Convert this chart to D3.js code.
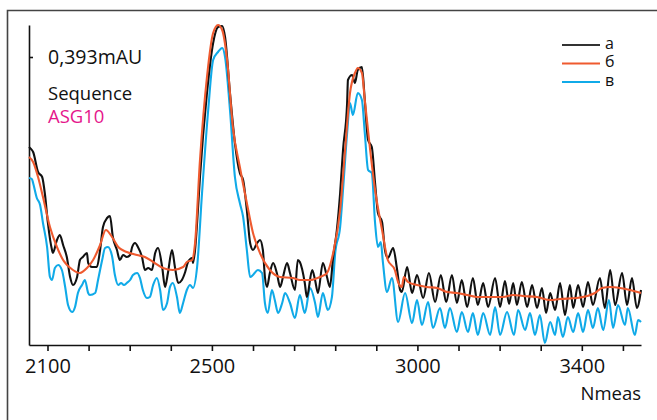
<!DOCTYPE html>
<html>
<head>
<meta charset="utf-8">
<script src="https://cdn.jsdelivr.net/npm/d3@7"></script>
<style>
  html, body { margin: 0; padding: 0; background: #fff; }
  svg { display: block; }
  text { font-family: "Open Sans", "Noto Sans", sans-serif; fill: #111; }
</style>
</head>
<body>
<svg id="chart" width="657" height="420"></svg>
<script>
// ---- data (Nmeas, mAU) ----
const xTickValues = [2100,2200,2300,2400,2500,2600,2700,2800,2900,3000,3100,3200,3300,3400,3500];
const xTickLabels = [2100, 2500, 3000, 3400];
const yTickValues = [0.393];
const yTickLabel = "0,393mAU";
const legendLabels = ["а", "б", "в"];
const infoLines = ["Sequence", "ASG10"];
const xLabel = "Nmeas";

const seriesA = [
[2055,.303],[2062,.300],[2065,.298],[2077,.278],[2087,.273],[2094,.255],[2101,.227],[2111,.200],[2113,.197],
[2123,.210],[2130,.215],[2138,.205],[2147,.193],[2155,.173],[2162,.165],[2172,.173],[2179,.190],[2186,.193],
[2196,.197],[2199,.187],[2208,.183],[2220,.183],[2228,.200],[2235,.223],[2245,.232],[2252,.234],[2259,.213],
[2269,.200],[2276,.190],[2284,.195],[2293,.193],[2301,.195],[2306,.203],[2313,.207],[2320,.203],[2330,.193],
[2337,.180],[2345,.182],[2354,.180],[2362,.197],[2369,.202],[2379,.183],[2386,.163],[2393,.177],[2403,.200],
[2410,.183],[2418,.167],[2427,.170],[2435,.178],[2442,.188],[2452,.192],[2454,.187],[2459,.200],[2466,.240],
[2471,.273],[2488,.357],[2503,.407],[2515,.423],[2525,.424],[2532,.413],[2544,.357],[2556,.307],[2568,.277],
[2576,.270],[2585,.240],[2593,.207],[2600,.200],[2610,.207],[2617,.210],[2624,.200],[2629,.173],[2634,.163],
[2641,.177],[2649,.187],[2658,.177],[2666,.163],[2673,.173],[2683,.187],[2690,.177],[2702,.160],[2709,.190],
[2714,.188],[2726,.167],[2731,.153],[2744,.180],[2751,.170],[2758,.157],[2770,.187],[2780,.173],[2787,.163],
[2795,.193],[2804,.220],[2812,.257],[2819,.300],[2829,.347],[2831,.370],[2841,.375],[2848,.367],[2855,.380],
[2865,.383],[2872,.350],[2880,.310],[2889,.303],[2897,.267],[2904,.237],[2914,.228],[2921,.200],[2928,.192],
[2941,.202],[2950,.182],[2958,.160],[2962,.158],[2975,.183],[2987,.157],[2999,.175],[3014,.152],[3028,.177],
[3043,.148],[3057,.175],[3070,.148],[3084,.175],[3096,.147],[3108,.170],[3121,.143],[3135,.172],[3147,.145],
[3160,.167],[3172,.143],[3189,.172],[3201,.143],[3213,.169],[3223,.146],[3233,.167],[3242,.145],[3254,.168],
[3267,.143],[3279,.165],[3291,.142],[3303,.162],[3313,.137],[3323,.157],[3335,.140],[3347,.167],[3359,.135],
[3371,.165],[3379,.142],[3391,.165],[3403,.143],[3415,.168],[3427,.145],[3444,.172],[3456,.142],[3469,.180],
[3481,.145],[3498,.177],[3510,.145],[3522,.172],[3534,.142],[3544,.160]
];

const seriesB = [
[2055,.293],[2065,.288],[2077,.273],[2089,.253],[2106,.223],[2123,.203],[2138,.190],[2162,.180],[2179,.177],
[2196,.182],[2211,.190],[2228,.205],[2242,.220],[2257,.213],[2272,.203],[2293,.198],[2318,.195],[2337,.193],
[2357,.188],[2381,.182],[2405,.180],[2430,.183],[2439,.188],[2452,.190],[2459,.207],[2471,.290],[2488,.373],
[2503,.417],[2515,.425],[2525,.420],[2537,.390],[2551,.323],[2568,.283],[2585,.247],[2600,.217],[2617,.197],
[2641,.180],[2666,.173],[2697,.172],[2714,.170],[2739,.170],[2763,.173],[2780,.177],[2795,.197],[2812,.240],
[2824,.300],[2836,.357],[2848,.377],[2855,.382],[2865,.377],[2872,.350],[2885,.300],[2897,.260],[2914,.220],
[2928,.190],[2945,.180],[2953,.168],[2962,.163],[2967,.173],[2977,.168],[2999,.165],[3023,.163],[3048,.162],
[3072,.158],[3096,.157],[3121,.155],[3145,.153],[3177,.153],[3208,.153],[3233,.155],[3257,.154],[3291,.153],
[3323,.150],[3347,.151],[3388,.152],[3413,.154],[3432,.157],[3449,.162],[3469,.163],[3493,.162],[3517,.160],
[3544,.157]
];

const seriesC = [
[2055,.272],[2062,.271],[2065,.267],[2074,.252],[2082,.245],[2089,.227],[2099,.203],[2106,.173],[2111,.170],
[2118,.182],[2126,.185],[2135,.180],[2143,.163],[2150,.145],[2160,.138],[2167,.143],[2174,.157],[2184,.165],
[2191,.170],[2199,.157],[2203,.155],[2216,.157],[2223,.170],[2233,.190],[2240,.202],[2247,.203],[2257,.194],
[2264,.175],[2272,.165],[2279,.167],[2286,.165],[2293,.167],[2301,.170],[2308,.175],[2318,.177],[2325,.172],
[2332,.160],[2342,.152],[2349,.153],[2357,.165],[2366,.172],[2374,.160],[2381,.140],[2391,.147],[2398,.163],
[2405,.167],[2415,.153],[2422,.137],[2430,.147],[2439,.160],[2447,.165],[2454,.162],[2464,.183],[2476,.257],
[2491,.340],[2503,.390],[2515,.398],[2525,.402],[2532,.393],[2544,.340],[2556,.273],[2568,.247],[2576,.233],
[2585,.200],[2593,.173],[2600,.175],[2612,.180],[2622,.177],[2629,.147],[2636,.137],[2646,.160],[2653,.150],
[2661,.137],[2671,.147],[2678,.157],[2690,.147],[2702,.132],[2714,.155],[2726,.137],[2739,.162],[2751,.147],
[2758,.133],[2770,.157],[2782,.140],[2792,.153],[2800,.197],[2812,.223],[2819,.260],[2829,.317],[2836,.347],
[2843,.335],[2855,.357],[2865,.350],[2872,.317],[2880,.280],[2889,.277],[2897,.227],[2904,.203],[2911,.208],
[2916,.188],[2926,.158],[2938,.172],[2953,.128],[2970,.157],[2987,.127],[2999,.150],[3011,.125],[3026,.148],
[3038,.122],[3055,.142],[3067,.122],[3079,.142],[3096,.118],[3108,.138],[3123,.118],[3135,.137],[3147,.115],
[3160,.137],[3177,.115],[3189,.143],[3201,.115],[3218,.138],[3235,.115],[3245,.140],[3262,.120],[3274,.137],
[3286,.115],[3298,.135],[3310,.107],[3323,.128],[3335,.115],[3342,.133],[3354,.113],[3366,.133],[3379,.118],
[3391,.137],[3403,.118],[3415,.140],[3427,.122],[3439,.142],[3452,.120],[3466,.150],[3476,.122],[3488,.145],
[3505,.125],[3512,.142],[3529,.115],[3537,.130],[3544,.128]
];

const colors = ["#111111", "#ef5a2f", "#10aae8"];
const legendColors = ["#333333", "#ef5a2f", "#10aae8"];

// ---- drawing ----
const svg = d3.select("#chart");

// outer frame
svg.append("path")
  .attr("d", "M7.5,425 V10.5 H660")
  .attr("fill", "none").attr("stroke", "#444").attr("stroke-width", 1.6);

const x = d3.scaleLinear().domain([2055, 3544]).range([29, 641]);
const y = d3.scaleLinear().domain([0.105, 0.425]).range([345, 25]);

// x axis
const xAxis = d3.axisBottom(x)
  .tickValues(xTickValues.filter(v => v >= 2055 && v <= 3544))
  .tickSize(6).tickSizeOuter(0).tickPadding(7.5)
  .tickFormat(d => xTickLabels.includes(d) ? String(d) : "");
const gx = svg.append("g").attr("transform", "translate(0,345)").call(xAxis);
gx.select(".domain").attr("stroke", "#111").attr("stroke-width", 1.6);
gx.selectAll(".tick line").attr("stroke", "#111").attr("stroke-width", 1.6);
gx.selectAll(".tick text").style("font-size", "20px").attr("fill", "#111")
  .style("font-family", "'Open Sans', 'Noto Sans', sans-serif");

// y axis (single tick)
const yAxis = d3.axisRight(y)
  .tickValues(yTickValues).tickSize(4).tickSizeOuter(0).tickPadding(15)
  .tickFormat(() => yTickLabel);
const gy = svg.append("g").attr("transform", "translate(29,0)").call(yAxis);
gy.select(".domain").attr("stroke", "#111").attr("stroke-width", 1.6);
gy.selectAll(".tick line").attr("stroke", "#111").attr("stroke-width", 1.6);
gy.selectAll(".tick text").style("font-size", "19.5px").attr("fill", "#111")
  .style("font-family", "'Open Sans', 'Noto Sans', sans-serif");

// info text
svg.append("text").attr("x", 48).attr("y", 100).style("font-size", "18.5px").text(infoLines[0]);
svg.append("text").attr("x", 48).attr("y", 122.5).style("font-size", "18.5px")
  .style("fill", "#e5168b").text(infoLines[1]);

// curves
const line = d3.line().x(d => x(d[0])).y(d => y(d[1])).curve(d3.curveMonotoneX);
const drawOrder = [[seriesC, 2], [seriesA, 0], [seriesB, 1]];
drawOrder.forEach(([s, i]) => {
  svg.append("path").datum(s).attr("d", line)
    .attr("fill", "none").attr("stroke", colors[i]).attr("stroke-width", 2.1)
    .attr("stroke-linejoin", "round");
});

// legend
const legendY = [45, 63.5, 82];
legendLabels.forEach((lab, i) => {
  svg.append("line").attr("x1", 562).attr("x2", 600).attr("y1", legendY[i]).attr("y2", legendY[i])
    .attr("stroke", legendColors[i]).attr("stroke-width", 2.2);
  svg.append("text").attr("x", 605).attr("y", legendY[i] + 3.5).style("font-size", "16px").text(lab);
});

// x label
svg.append("text").attr("x", 641).attr("y", 400).attr("text-anchor", "end")
  .style("font-size", "18.5px").text(xLabel);
</script>
</body>
</html>
